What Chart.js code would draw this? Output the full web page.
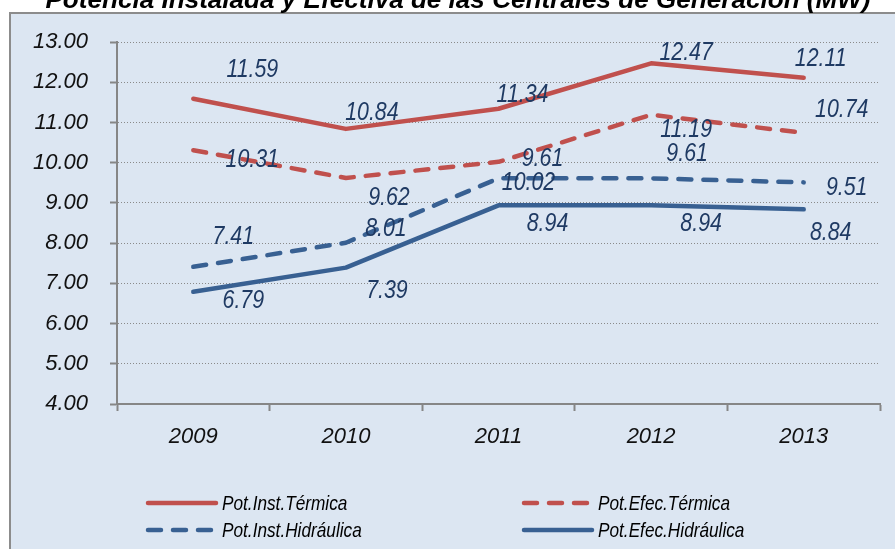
<!DOCTYPE html>
<html>
<head>
<meta charset="utf-8">
<script src="https://cdn.jsdelivr.net/npm/chart.js@4.4.1/dist/chart.umd.min.js"></script>
<style>
  html, body { margin: 0; padding: 0; background: #ffffff; }
  canvas { display: block; }
</style>
</head>
<body>
<canvas id="chart" width="895" height="549"></canvas>
<script>
var years = ['2009', '2010', '2011', '2012', '2013'];
var instTermica = [11.59, 10.84, 11.34, 12.47, 12.11];
var efecTermica = [10.31, 9.62, 10.02, 11.19, 10.74];
var instHidraulica = [7.41, 8.01, 9.61, 9.61, 9.51];
var efecHidraulica = [6.79, 7.39, 8.94, 8.94, 8.84];
var seriesNames = ['Pot.Inst.Térmica', 'Pot.Efec.Térmica', 'Pot.Inst.Hidráulica', 'Pot.Efec.Hidráulica'];
var titleText = 'Potencia Instalada y Efectiva de las Centrales de Generación (MW)';

// where each value label sits relative to its point (dx, dy in px)
var labelOffsets = [
  [[59, -29], [26, -16], [24, -14], [35, -11], [17, -19]],
  [[59, 10], [43, 20], [30, 21], [35, 15], [38, -23]],
  [[40, -30], [40, -14], [44, -20], [36, -25], [43, 5]],
  [[50, 9], [41, 23], [49, 18], [50, 18], [27, 23]]
];

var RED = '#c0504d';
var BLUE = '#386092';
var FONT = "'Liberation Sans', Arial, sans-serif";
var NARROW = 0.82; // squeeze text to look like Arial Narrow
var DASH = [13, 12];

function makeSet(i, data, color, dashed) {
  return {
    label: seriesNames[i],
    data: data,
    borderColor: color,
    backgroundColor: color,
    borderWidth: 4.5,
    borderDash: dashed ? DASH : [],
    borderCapStyle: 'round',
    borderJoinStyle: 'round',
    pointRadius: 0,
    pointHoverRadius: 0,
    tension: 0,
    fill: false
  };
}

function narrowText(ctx, text, x, y) {
  ctx.save();
  ctx.translate(x, y);
  ctx.scale(NARROW, 1);
  ctx.fillText(text, 0, 0);
  ctx.restore();
}

var framePlugin = {
  id: 'frame',
  beforeDraw: function (chart) {
    var ctx = chart.ctx;
    ctx.save();
    ctx.fillStyle = '#ffffff';
    ctx.fillRect(0, 0, chart.width, chart.height);
    ctx.fillStyle = '#dce6f2';
    ctx.fillRect(10, 13, chart.width, chart.height);
    ctx.strokeStyle = '#8c8c8c';
    ctx.lineWidth = 2;
    ctx.strokeRect(10, 13, chart.width + 10, chart.height + 10);
    ctx.fillStyle = '#000000';
    ctx.font = "italic bold 27px " + FONT;
    var size = 27 * 824 / ctx.measureText(titleText).width;
    ctx.font = "italic bold " + size.toFixed(1) + "px " + FONT;
    ctx.textAlign = 'center';
    ctx.textBaseline = 'alphabetic';
    ctx.fillText(titleText, 458, 8);
    ctx.restore();
  }
};

var valueLabelPlugin = {
  id: 'valueLabels',
  afterDatasetsDraw: function (chart) {
    var ctx = chart.ctx;
    ctx.save();
    ctx.font = "italic 26px " + FONT;
    ctx.fillStyle = '#1f3a63';
    ctx.textAlign = 'center';
    ctx.textBaseline = 'middle';
    chart.data.datasets.forEach(function (ds, i) {
      var meta = chart.getDatasetMeta(i);
      meta.data.forEach(function (pt, j) {
        var off = labelOffsets[i][j];
        narrowText(ctx, ds.data[j].toFixed(2), pt.x + off[0], pt.y + off[1]);
      });
    });
    ctx.restore();
  }
};

var legendPlugin = {
  id: 'cornerLegend',
  afterDraw: function (chart) {
    var ctx = chart.ctx;
    var cols = [146, 522];
    var rows = [503, 530];
    ctx.save();
    chart.data.datasets.forEach(function (ds, i) {
      var x = cols[i % 2];
      var y = rows[Math.floor(i / 2)];
      ctx.strokeStyle = ds.borderColor;
      ctx.lineWidth = 4.5;
      ctx.lineCap = 'round';
      ctx.setLineDash(ds.borderDash);
      ctx.beginPath();
      ctx.moveTo(x + 2, y);
      ctx.lineTo(x + 70, y);
      ctx.stroke();
      ctx.setLineDash([]);
      ctx.fillStyle = '#000000';
      ctx.font = "italic 21px " + FONT;
      ctx.textAlign = 'left';
      ctx.textBaseline = 'middle';
      narrowText(ctx, ds.label, x + 76, y + 1);
    });
    ctx.restore();
  }
};

new Chart(document.getElementById('chart').getContext('2d'), {
  type: 'line',
  data: {
    labels: years,
    datasets: [
      makeSet(0, instTermica, RED, false),
      makeSet(1, efecTermica, RED, true),
      makeSet(2, instHidraulica, BLUE, true),
      makeSet(3, efecHidraulica, BLUE, false)
    ]
  },
  options: {
    responsive: false,
    animation: false,
    events: [],
    layout: { padding: { top: 42, right: 15, bottom: 0, left: 0 } },
    plugins: {
      legend: { display: false },
      title: { display: false },
      tooltip: { enabled: false }
    },
    scales: {
      x: {
        offset: true,
        afterFit: function (scale) { scale.height = 145; },
        grid: {
          offset: true,
          drawOnChartArea: false,
          tickLength: 7,
          tickWidth: 2,
          tickColor: '#868686'
        },
        border: { color: '#868686', width: 2 },
        ticks: {
          color: '#111111',
          padding: 13,
          font: { family: FONT, size: 22, style: 'italic' }
        }
      },
      y: {
        min: 4,
        max: 13,
        afterFit: function (scale) { scale.width = 117; },
        grid: {
          color: '#8a8a8a',
          lineWidth: 1,
          tickLength: 7,
          tickWidth: 2,
          tickColor: '#868686',
          tickBorderDash: []
        },
        border: { color: '#868686', width: 2, dash: [1, 2] },
        ticks: {
          stepSize: 1,
          color: '#111111',
          padding: 22,
          font: { family: FONT, size: 22, style: 'italic' },
          callback: function (v) { return v.toFixed(2); }
        }
      }
    }
  },
  plugins: [framePlugin, valueLabelPlugin, legendPlugin]
});
</script>
</body>
</html>
